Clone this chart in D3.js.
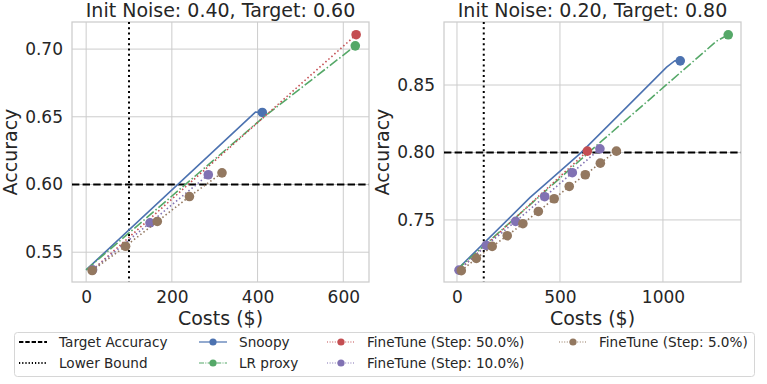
<!DOCTYPE html>
<html><head><meta charset="utf-8">
<script src="https://cdn.jsdelivr.net/npm/d3@7/dist/d3.min.js"></script>
<style>body{margin:0;background:#fff;} svg{display:block;font-family:"DejaVu Sans",sans-serif;}</style>
</head><body><svg id="c" width="767" height="384"></svg>
<script>
// ---- data ----
const panelTitles = ["Init Noise: 0.40, Target: 0.60", "Init Noise: 0.20, Target: 0.80"];
const targetAcc = [0.60, 0.80];
const lowerBound = [100, 130];
const xTicksL = [0, 200, 400, 600];
const yTicksL = [0.55, 0.60, 0.65, 0.70];
const xTicksR = [0, 500, 1000];
const yTicksR = [0.75, 0.80, 0.85];

const snoopyL_x = [0, 395, 411];
const snoopyL_y = [0.537, 0.6535, 0.6532];
const lrL_x = [0, 414, 628];
const lrL_y = [0.537, 0.6497, 0.7024];
const ft50L_x = [15, 630];
const ft50L_y = [0.537, 0.7106];
const ft10L_x = [15, 149, 285];
const ft10L_y = [0.537, 0.5717, 0.6072];
const ft5L_x = [14, 92, 166, 241, 317];
const ft5L_y = [0.5365, 0.5544, 0.5727, 0.5911, 0.6086];

const snoopyR_x = [0, 354, 451, 600, 824, 1018, 1058, 1084];
const snoopyR_y = [0.7131, 0.7665, 0.7795, 0.7995, 0.8336, 0.8632, 0.868, 0.8679];
const lrR_x = [0, 678, 929, 1260, 1317];
const lrR_y = [0.7131, 0.8052, 0.8385, 0.8825, 0.8872];
const ft50R_x = [10, 633];
const ft50R_y = [0.7128, 0.801];
const ft10R_x = [10, 142, 285, 426, 560, 694];
const ft10R_y = [0.7128, 0.7311, 0.7489, 0.7672, 0.785, 0.8027];
const ft5R_x = [21, 94, 171, 244, 320, 395, 472, 545, 623, 696, 774];
const ft5R_y = [0.7124, 0.7215, 0.7304, 0.7383, 0.7472, 0.7563, 0.7657, 0.7748, 0.7835, 0.7921, 0.801];

const seriesNames = ["Snoopy", "LR proxy", "FineTune (Step: 50.0%)", "FineTune (Step: 10.0%)", "FineTune (Step: 5.0%)"];
const colors = ["#4c72b0", "#55a868", "#c44e52", "#8172b3", "#937860"];
const dashes = [null, "9.6,2.4,1.5,2.4", "1.5,2.5", "1.5,2.5", "1.5,2.5"];
const allMarkers = [false, false, false, true, true];

const panels = [
  {title: panelTitles[0], x0: 72, x1: 369, xd: [-33, 660], yd: [0.528, 0.72], xt: xTicksL, yt: yTicksL,
   series: [[snoopyL_x, snoopyL_y], [lrL_x, lrL_y], [ft50L_x, ft50L_y], [ft10L_x, ft10L_y], [ft5L_x, ft5L_y]], target: targetAcc[0], lb: lowerBound[0]},
  {title: panelTitles[1], x0: 444, x1: 741, xd: [-63, 1379], yd: [0.704, 0.8967], xt: xTicksR, yt: yTicksR,
   series: [[snoopyR_x, snoopyR_y], [lrR_x, lrR_y], [ft50R_x, ft50R_y], [ft10R_x, ft10R_y], [ft5R_x, ft5R_y]], target: targetAcc[1], lb: lowerBound[1]}
];
const plotTop = 22, plotBottom = 282;
const svg = d3.select("#c");
const txt = "#262626";

panels.forEach((p, pi) => {
  const x = d3.scaleLinear().domain(p.xd).range([p.x0, p.x1]);
  const y = d3.scaleLinear().domain(p.yd).range([plotBottom, plotTop]);
  const g = svg.append("g");
  g.selectAll(null).data(p.xt).join("line").attr("x1", d => x(d)).attr("x2", d => x(d)).attr("y1", plotTop).attr("y2", plotBottom).attr("stroke", "#cccccc").attr("stroke-width", 1);
  g.selectAll(null).data(p.yt).join("line").attr("y1", d => y(d)).attr("y2", d => y(d)).attr("x1", p.x0).attr("x2", p.x1).attr("stroke", "#cccccc").attr("stroke-width", 1);
  const ax = g.append("g").attr("transform", `translate(0,${plotBottom})`).call(d3.axisBottom(x).tickValues(p.xt).tickFormat(d3.format("d")).tickSize(0).tickPadding(9));
  const ay = g.append("g").attr("transform", `translate(${p.x0},0)`).call(d3.axisLeft(y).tickValues(p.yt).tickFormat(d3.format(".2f")).tickSize(0).tickPadding(9));
  [ax, ay].forEach(a => { a.select(".domain").remove(); a.attr("font-family", "DejaVu Sans").attr("font-size", 17); a.selectAll("text").attr("font-size", 17).attr("fill", txt); });
  g.append("rect").attr("x", p.x0).attr("y", plotTop).attr("width", p.x1 - p.x0).attr("height", plotBottom - plotTop).attr("fill", "none").attr("stroke", "#cccccc").attr("stroke-width", 1.25);
  const cid = "clip" + pi;
  svg.append("clipPath").attr("id", cid).append("rect").attr("x", p.x0).attr("y", plotTop).attr("width", p.x1 - p.x0).attr("height", plotBottom - plotTop);
  const pg = g.append("g").attr("clip-path", `url(#${cid})`);
  pg.append("line").attr("x1", p.x0).attr("x2", p.x1).attr("y1", y(p.target)).attr("y2", y(p.target)).attr("stroke", "#000").attr("stroke-width", 2).attr("stroke-dasharray", "7.4,3.2");
  pg.append("line").attr("x1", x(p.lb)).attr("x2", x(p.lb)).attr("y1", plotTop).attr("y2", plotBottom).attr("stroke", "#000").attr("stroke-width", 2).attr("stroke-dasharray", "2,3.3");
  const line = d3.line().x(d => x(d[0])).y(d => y(d[1]));
  p.series.forEach((s, si) => {
    const pts = s[0].map((v, i) => [v, s[1][i]]);
    const path = pg.append("path").attr("d", line(pts)).attr("fill", "none").attr("stroke", colors[si]).attr("stroke-width", 1.6);
    if (dashes[si]) path.attr("stroke-dasharray", dashes[si]);
    const mk = allMarkers[si] ? pts : [pts[pts.length - 1]];
    pg.selectAll(null).data(mk).join("circle").attr("cx", d => x(d[0])).attr("cy", d => y(d[1])).attr("r", 4.8).attr("fill", colors[si]);
  });
  g.append("text").attr("x", (p.x0 + p.x1) / 2).attr("y", 17).attr("text-anchor", "middle").attr("font-size", 19).attr("fill", txt).text(p.title);
  g.append("text").attr("x", (p.x0 + p.x1) / 2).attr("y", 325).attr("text-anchor", "middle").attr("font-size", 19).attr("fill", txt).text("Costs ($)");
  g.append("text").attr("transform", `translate(${p.x0 - 55},${(plotTop + plotBottom) / 2}) rotate(-90)`).attr("text-anchor", "middle").attr("font-size", 19).attr("fill", txt).text("Accuracy");
});

const lg = svg.append("g");
lg.append("rect").attr("x", 14.5).attr("y", 332.5).attr("width", 740).attr("height", 44).attr("rx", 3).attr("fill", "#fff").attr("stroke", "#d6d6d6").attr("stroke-width", 1);
const legendItems = [
  {label: "Target Accuracy", color: "#000", dash: "4.4,1.9", lw: 2, marker: false, col: 0, row: 0},
  {label: "Lower Bound", color: "#000", dash: "1.2,2", lw: 2, marker: false, col: 0, row: 1},
];
seriesNames.forEach((n, i) => {
  const pos = [[1, 0], [1, 1], [2, 0], [2, 1], [3, 0]][i];
  legendItems.push({label: n, color: colors[i], dash: dashes[i] ? (i === 1 ? "5,1.3,1,1.3" : "1,1.6") : null, lw: 1.2, marker: true, col: pos[0], row: pos[1]});
});
const colX = [19, 199, 327, 559];
const rowY = [342, 363];
legendItems.forEach(it => {
  const hx = colX[it.col], hy = rowY[it.row];
  const l = lg.append("line").attr("x1", hx).attr("x2", hx + 28).attr("y1", hy).attr("y2", hy).attr("stroke", it.color).attr("stroke-width", it.lw);
  if (it.dash) l.attr("stroke-dasharray", it.dash);
  if (it.marker) lg.append("circle").attr("cx", hx + 14).attr("cy", hy).attr("r", 3.6).attr("fill", it.color);
  lg.append("text").attr("x", hx + 40).attr("y", hy + 5).attr("font-size", 13.6).attr("fill", txt).text(it.label);
});
</script></body></html>
